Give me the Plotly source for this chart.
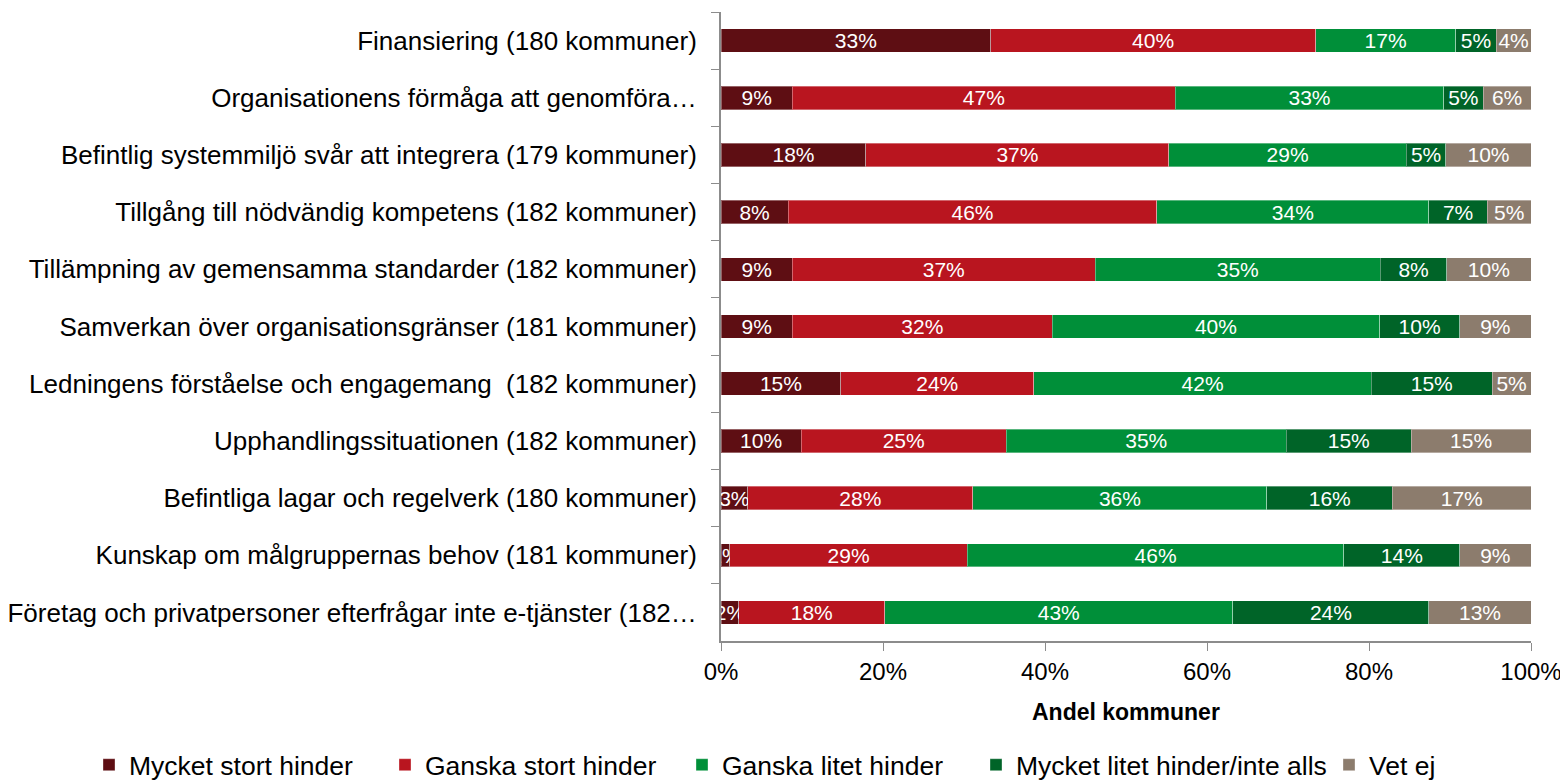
import plotly.graph_objects as go

categories = [
    "Finansiering (180 kommuner)",
    "Organisationens förmåga att genomföra…",
    "Befintlig systemmiljö svår att integrera (179 kommuner)",
    "Tillgång till nödvändig kompetens (182 kommuner)",
    "Tillämpning av gemensamma standarder (182 kommuner)",
    "Samverkan över organisationsgränser (181 kommuner)",
    "Ledningens förståelse och engagemang  (182 kommuner)",
    "Upphandlingssituationen (182 kommuner)",
    "Befintliga lagar och regelverk (180 kommuner)",
    "Kunskap om målgruppernas behov (181 kommuner)",
    "Företag och privatpersoner efterfrågar inte e-tjänster (182…",
]

series_names = [
    "Mycket stort hinder",
    "Ganska stort hinder",
    "Ganska litet hinder",
    "Mycket litet hinder/inte alls",
    "Vet ej",
]

mycket_stort = [33.3, 8.8, 17.9, 8.3, 8.8, 8.8, 14.8, 9.9, 3.3, 1.1, 2.2]
ganska_stort = [40.1, 47.3, 37.4, 45.5, 37.4, 32.1, 23.8, 25.3, 27.8, 29.3, 18.0]
ganska_litet = [17.3, 33.1, 29.3, 33.6, 35.2, 40.4, 41.7, 34.6, 36.3, 46.5, 43.0]
mycket_litet = [5.0, 4.9, 4.9, 7.2, 8.2, 9.9, 14.9, 15.4, 15.5, 14.3, 24.2]
vet_ej = [4.3, 5.9, 10.5, 5.4, 10.4, 8.8, 4.8, 14.8, 17.1, 8.8, 12.6]

x_tick_vals = [0, 20, 40, 60, 80, 100]
x_tick_text = ["0%", "20%", "40%", "60%", "80%", "100%"]
x_title = "Andel kommuner"

values = [mycket_stort, ganska_stort, ganska_litet, mycket_litet, vet_ej]
colors = ["#5E0E13", "#B9151F", "#008F39", "#006428", "#8C7C6D"]

FONT = "Liberation Sans, Arial, sans-serif"

# page body has an 8px margin; compensate so the figure lands on the window
W, H = 1560, 774
OFF = 8
PLOT_TOP = 12 - OFF
PLOT_BOTTOM = 641 - OFF
PLOT_H = PLOT_BOTTOM - PLOT_TOP

legend_text_start = [131, 427, 724, 1018, 1371]  # pixel x where legend texts begin
legend_ids = ["legend", "legend2", "legend3", "legend4", "legend5"]

fig = go.Figure()
for name, vals, col, lid in zip(series_names, values, colors, legend_ids):
    fig.add_trace(go.Bar(
        name=name,
        y=categories,
        x=vals,
        orientation="h",
        legend=lid,
        marker=dict(color=col, line=dict(color="rgba(255,255,255,0.35)", width=1)),
        text=[f"{round(v)}%" for v in vals],
        textposition="inside",
        insidetextanchor="middle",
        textangle=0,
        constraintext="none",
        textfont=dict(color="white", size=21, family=FONT),
        hoverinfo="skip",
    ))

layout_legends = {}
for lid, xs in zip(legend_ids, legend_text_start):
    layout_legends[lid] = dict(
        orientation="h",
        xref="container", yref="container",
        x=(xs - OFF - 42) / W, xanchor="left",
        y=1 - (765 - OFF) / H, yanchor="middle",
        font=dict(size=26.5, family=FONT, color="black"),
        itemwidth=30,
        bgcolor="rgba(0,0,0,0)",
    )

fig.update_layout(
    barmode="stack",
    bargap=0.59,
    width=W,
    height=H,
    margin=dict(l=721 - OFF, r=W - (1531 - OFF), t=PLOT_TOP, b=H - PLOT_BOTTOM),
    paper_bgcolor="white",
    plot_bgcolor="white",
    font=dict(family=FONT, size=25, color="black"),
    showlegend=True,
    **layout_legends,
)

fig.add_annotation(
    text=f"<b>{x_title}</b>",
    xref="paper", x=0.5, xanchor="center",
    yref="paper", y=(PLOT_BOTTOM - (712 - OFF)) / PLOT_H, yanchor="middle",
    showarrow=False,
    font=dict(size=23, family=FONT, color="black"),
)

fig.update_xaxes(
    range=[0, 100],
    tickmode="array",
    tickvals=x_tick_vals,
    ticktext=x_tick_text,
    showgrid=False,
    zeroline=False,
    showline=True,
    linecolor="#8C8C8C",
    linewidth=2,
    ticks="outside",
    ticklen=8,
    tickwidth=1,
    tickcolor="#8C8C8C",
    tickfont=dict(size=24, family=FONT),
    automargin=False,
)

fig.update_yaxes(
    autorange="reversed",
    showgrid=False,
    showline=True,
    linecolor="#8C8C8C",
    linewidth=2,
    ticks="outside",
    tickson="boundaries",
    ticklen=8,
    tickwidth=1,
    tickcolor="#8C8C8C",
    tickfont=dict(size=26, family=FONT),
    ticklabelstandoff=17,
    automargin=False,
)

fig.write_html("out.html")
